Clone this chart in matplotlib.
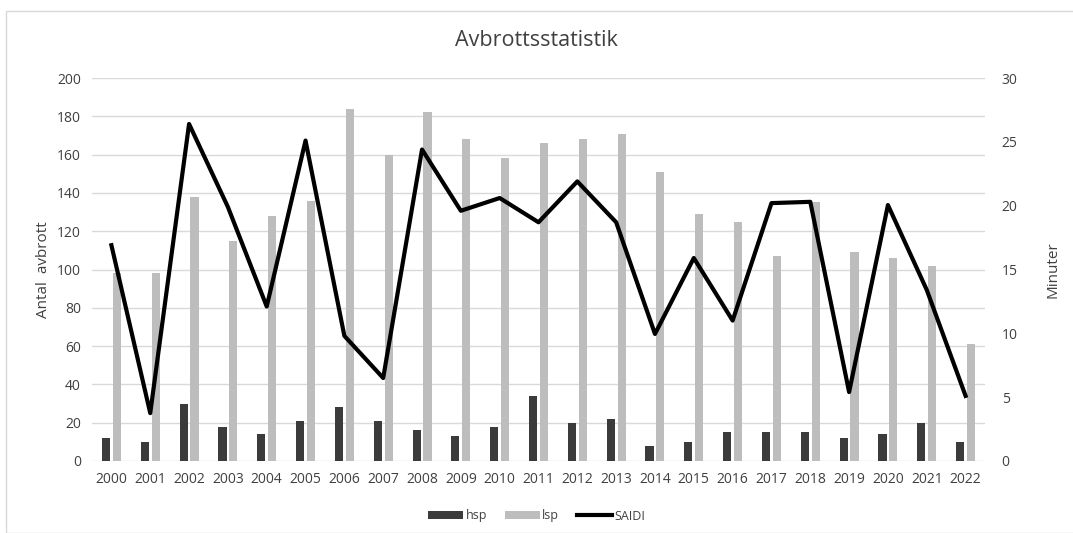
import matplotlib
matplotlib.use("Agg")
import matplotlib.pyplot as plt
import numpy as np
from matplotlib.patches import Rectangle

years = [str(y) for y in range(2000, 2023)]
hsp = [12, 10, 30, 18, 14, 21, 28, 21, 16, 13, 18, 34, 20, 22, 8, 10, 15, 15, 15, 12, 14, 20, 10]
lsp = [98, 98, 138, 115, 128, 136, 184, 160, 182, 168, 158, 166, 168, 171, 151, 129, 125, 107, 135, 109, 106, 102, 61]
saidi = [16.9, 3.75, 26.4, 19.9, 12.1, 25.1, 9.8, 6.5, 24.4, 19.6, 20.6, 18.7, 21.9, 18.7,
         9.95, 15.9, 11.0, 20.2, 20.3, 5.4, 20.05, 13.4, 5.1]

plt.rcParams['font.family'] = ['Open Sans', 'DejaVu Sans']
txt = '#404040'

fig = plt.figure(figsize=(10.73, 5.33), dpi=100)
# light frame round the chart area
fig.patches.append(Rectangle((6 / 1073, 0), 1.1, (533 - 11) / 533, transform=fig.transFigure,
                             fill=False, edgecolor='#d9d9d9', linewidth=1))
ax = fig.add_axes([92 / 1073, 1 - 461 / 533, 893 / 1073, 383 / 533])
x = np.arange(len(years))
w = 0.21
b1 = ax.bar(x - 0.14, hsp, w, color='#3b3b3b', label='hsp', zorder=2)
b2 = ax.bar(x + 0.14, lsp, w, color='#bdbdbd', label='lsp', zorder=2)
ax.set_xlim(-0.5, len(years) - 0.5)
ax.set_ylim(0, 200)
ax.set_yticks(range(0, 201, 20))
ax.set_xticks(x)
ax.set_xticklabels(years)
ax.grid(axis='y', color='#d9d9d9', linewidth=1, zorder=0)
ax.set_axisbelow(True)
for s in ax.spines.values():
    s.set_visible(False)
ax.tick_params(length=0, labelsize=10, colors=txt, pad=8)
ax.set_ylabel('Antal  avbrott', fontsize=11, color=txt, labelpad=4)

ax2 = ax.twinx()
ln, = ax2.plot(x, saidi, color='black', linewidth=3, label='SAIDI', zorder=3)
ax2.set_ylim(0, 30)
ax2.set_yticks(range(0, 31, 5))
for s in ax2.spines.values():
    s.set_visible(False)
ax2.tick_params(length=0, labelsize=10, colors=txt, pad=12)
ax2.set_ylabel('Minuter', fontsize=11, color=txt, labelpad=20)

fig.text(0.5, 1 - 40 / 533, 'Avbrottsstatistik', ha='center', va='center', fontsize=15.5, color=txt)
fig.legend(handles=[b1, b2, ln], loc='center', bbox_to_anchor=(0.5, 1 - 516 / 533), ncol=3,
           frameon=False, fontsize=9, handlelength=2.8, handleheight=0.6, columnspacing=1.4,
           handletextpad=0.2, labelcolor=txt)

fig.savefig('out.png', dpi=100)
